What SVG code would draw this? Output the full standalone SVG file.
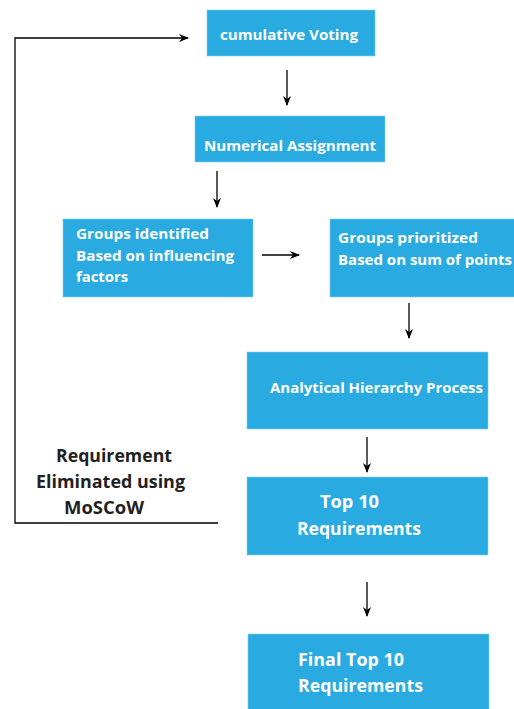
<svg xmlns="http://www.w3.org/2000/svg" width="514" height="709" viewBox="0 0 514 709">
<style>
.box{fill:#29abe2;stroke:#7fcdef;stroke-width:0.6}
.bt{font-family:"Open Sans","Liberation Sans",sans-serif;font-weight:bold;font-size:15px;fill:#ffffff}
.big{font-size:18px}
.lt{font-family:"Open Sans","Liberation Sans",sans-serif;font-weight:bold;font-size:17px;fill:#231f20}
.c{stroke:#000;stroke-width:1.3;fill:none}
</style>
<defs>
<marker id="ah" markerWidth="10" markerHeight="8" refX="9" refY="4" orient="auto" markerUnits="userSpaceOnUse">
<path d="M0,0 L10,4 L0,8 L3,4 Z" fill="#000"/>
</marker>
</defs>
<rect width="514" height="709" fill="#fff"/>
<g id="connectors">
<line class="c" x1="287" y1="70" x2="287" y2="105" marker-end="url(#ah)"/>
<line class="c" x1="217" y1="171" x2="217" y2="207" marker-end="url(#ah)"/>
<line class="c" x1="262" y1="255" x2="299" y2="255" marker-end="url(#ah)"/>
<line class="c" x1="409" y1="303" x2="409" y2="338" marker-end="url(#ah)"/>
<line class="c" x1="367" y1="437" x2="367" y2="472" marker-end="url(#ah)"/>
<line class="c" x1="367" y1="582" x2="367" y2="616" marker-end="url(#ah)"/>
<polyline class="c" stroke="#333" points="218,523 15,523 15,38 188,38" marker-end="url(#ah)"/>
</g>
<g id="n1"><rect class="box" x="207" y="10" width="168" height="46"/><text class="bt" x="220" y="40" textLength="138" lengthAdjust="spacingAndGlyphs">cumulative Voting</text></g>
<g id="n2"><rect class="box" x="195" y="116" width="190" height="46"/><text class="bt" x="204" y="151" textLength="172" lengthAdjust="spacingAndGlyphs">Numerical Assignment</text></g>
<g id="n3"><rect class="box" x="63" y="219" width="190" height="78"/>
<text class="bt" x="76" y="239" textLength="133" lengthAdjust="spacingAndGlyphs">Groups identified</text>
<text class="bt" x="76" y="261" textLength="158" lengthAdjust="spacingAndGlyphs">Based on influencing</text>
<text class="bt" x="76" y="282" textLength="52" lengthAdjust="spacingAndGlyphs">factors</text></g>
<g id="n4"><rect class="box" x="330" y="219" width="186" height="78"/>
<text class="bt" x="338" y="243" textLength="140" lengthAdjust="spacingAndGlyphs">Groups prioritized</text>
<text class="bt" x="338" y="265" textLength="174" lengthAdjust="spacingAndGlyphs">Based on sum of points</text></g>
<g id="n5"><rect class="box" x="247" y="352" width="241" height="77"/><text class="bt" x="270" y="393" textLength="213" lengthAdjust="spacingAndGlyphs">Analytical Hierarchy Process</text></g>
<g id="n6"><rect class="box" x="247" y="477" width="241" height="78"/>
<text class="bt big" x="320" y="508" textLength="59" lengthAdjust="spacingAndGlyphs">Top 10</text>
<text class="bt big" x="297" y="535" textLength="124" lengthAdjust="spacingAndGlyphs">Requirements</text></g>
<g id="n7"><rect class="box" x="248" y="634" width="241" height="80"/>
<text class="bt big" x="298" y="666" textLength="106" lengthAdjust="spacingAndGlyphs">Final Top 10</text>
<text class="bt big" x="298" y="692" textLength="125" lengthAdjust="spacingAndGlyphs">Requirements</text></g>
<g id="label">
<text class="lt" x="56" y="462" textLength="116" lengthAdjust="spacingAndGlyphs">Requirement</text>
<text class="lt" x="36" y="488" textLength="149" lengthAdjust="spacingAndGlyphs">Eliminated using</text>
<text class="lt" x="64" y="514" textLength="80" lengthAdjust="spacingAndGlyphs">MoSCoW</text>
</g>
</svg>
